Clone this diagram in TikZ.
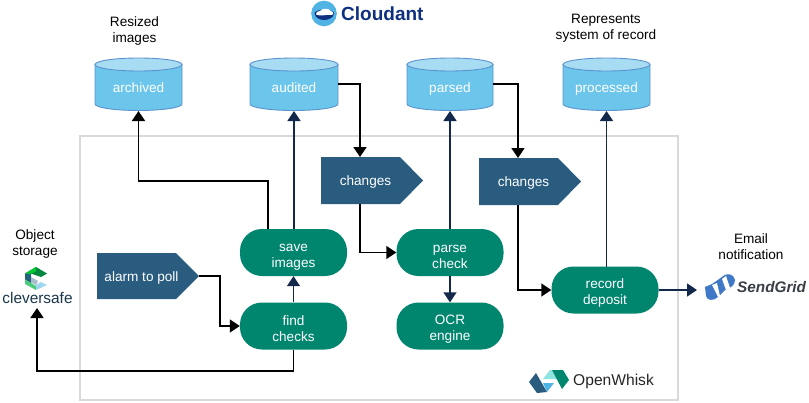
\documentclass[tikz,border=0pt]{standalone}
\usepackage{fontspec}
\setmainfont{Liberation Sans}
\usetikzlibrary{arrows.meta}
\definecolor{teal1}{HTML}{00856F}
\definecolor{slate}{HTML}{295C7F}
\definecolor{navy}{HTML}{12294B}
\definecolor{cylbody}{HTML}{6CC5EA}
\definecolor{cyltop}{HTML}{A8DCF3}
\definecolor{cyledge}{HTML}{5B93CE}
\definecolor{framec}{HTML}{D9D9D9}
\definecolor{cloudblue}{HTML}{4FB4E3}
\definecolor{cloudnavy}{HTML}{0F2F80}
\definecolor{sgblue}{HTML}{3F78C6}
\definecolor{sggray}{HTML}{3A3F45}
\newcommand{\dropline}{\rule{0pt}{16pt}}
\tikzset{
 x=1pt,y=-1pt,
 lbl/.style={font=\fontsize{13.6}{16}\selectfont,align=center,inner sep=0pt,text=black},
 wht/.style={font=\fontsize{13.6}{16}\selectfont,align=center,inner sep=0pt,text=white},
 action/.style={wht,fill=teal1,rounded corners=22pt,minimum width=107pt,minimum height=47pt},
 blk/.style={black,line width=1.6pt,-{Triangle[length=10pt,width=13pt]}},
 nvy/.style={navy,line width=1.6pt,-{Triangle[length=10pt,width=13pt]}},
}
% name, left x, shoulder x, tip x, top y, bottom y, label
\newcommand{\feedshape}[7]{
 \fill[slate] (#2,#5) -- (#3,#5) -- (#4,{(#5+#6)/2}) -- (#3,#6) -- (#2,#6) -- cycle;
 \node[wht] (#1) at ({(#2+#3)/2+5},{(#5+#6)/2+1.5}) {#7};
 \coordinate (#1-tip) at (#4,{(#5+#6)/2});
}
% name, left x, right x, label
\newcommand{\cyl}[4]{
 \filldraw[fill=cylbody,draw=cyledge,line width=.9pt] (#2,64.5) -- (#2,104) arc[start angle=180,end angle=0,x radius={(#3-#2)/2},y radius=6.5] -- (#3,64.5) -- cycle;
 \filldraw[fill=cyltop,draw=cyledge,line width=.9pt] ({(#2+#3)/2},64.5) ellipse[x radius={(#3-#2)/2},y radius=6.5];
 \node[wht,anchor=base] (#1) at ({(#2+#3)/2},92) {#4};
 \coordinate (#1-s) at ({(#2+#3)/2},111);
 \coordinate (#1-e) at (#3,84);
}
\begin{document}
\begin{tikzpicture}
\useasboundingbox (0,0) rectangle (809,402);
\fill[white] (0,0) rectangle (809,402);
\draw[framec,line width=1.6pt] (80,136) rectangle (678,400);

\cyl{archived}{95}{182}{archived}
\cyl{audited}{250}{338}{audited}
\cyl{parsed}{407}{493}{parsed}
\cyl{processed}{563}{650}{processed}

\node[lbl] (resized) at (134.5,31) {Resized\\images};
\node[lbl] (represents) at (606,28.5) {Represents\\system of record};
\node[lbl] (objstore) at (35,243.5) {Object\\storage};
\node[lbl] (email) at (751,246.5) {Email\\notification};

\feedshape{alarm}{97}{176}{199}{253}{299}{alarm to poll}
\feedshape{chgA}{321}{400}{423}{157}{204}{changes}
\feedshape{chgB}{479}{558}{581}{158}{205}{changes}

\node[action] (save) at (293.5,252.5) {\dropline save\\images};
\node[action] (find) at (293.5,326) {\dropline find\\checks};
\node[action] (parse) at (450,252.5) {\dropline parse\\check};
\node[action] (ocr) at (450,326) {\dropline OCR\\engine};
\node[action] (record) at (605,290) {\dropline record\\deposit};

% Cloudant logo
\fill[cloudblue] (324,13.5) circle[radius=12.8];
\fill[cloudnavy] (314.5,13) .. controls (316,9) and (332,8) .. (334,13) .. controls (334,18) and (328,20) .. (324,20) .. controls (320,20) and (315,18) .. (314.5,13) -- cycle;
\fill[white] (316,14.5) .. controls (315,12) and (318,11.5) .. (320,11) .. controls (322,8) and (329,8) .. (331,11) .. controls (334,12) and (334,15) .. (331,15) .. controls (326,14) and (321,17) .. (316,14.5) -- cycle;
\node[font=\fontsize{19}{19}\selectfont\bfseries,text=cloudnavy,anchor=west,inner sep=0pt] (cloudant) at (341,14) {Cloudant};

% Cleversafe logo
\fill[teal1!70!green!80!black] (36,267) -- (47,273.5) -- (41,277) -- (31,273.5) -- (25,273.5) -- cycle;
\fill[green!55!teal1] (25,273.5) -- (36,267) -- (36,271) -- (31,274) -- cycle;
\fill[slate!80!teal1] (25,273.5) -- (31,274) -- (31,283) -- (25,279.5) -- cycle;
\fill[green!40!teal1!70!white] (25,279.5) -- (31,283) -- (36,286) -- (36,290) -- (25,284) -- cycle;
\fill[cloudblue!55!white] (36,290) -- (36,285) -- (41,282) -- (47,285) -- cycle;
\fill[slate!40!white] (31,277) -- (38,281) -- (36,285) -- (31,282.5) -- cycle;
\node[font=\fontsize{15.4}{16}\selectfont,text=slate!60!black,inner sep=0pt] (clever) at (37.5,298) {cleversafe};

% SendGrid logo
\fill[sgblue] (705,287) -- (712,284) -- (722,277) .. controls (727,272) and (734,274) .. (735,280) .. controls (735,285) and (731,288) .. (725,290) -- (718,297) .. controls (714,301) and (707,301) .. (706,296) -- cycle;
\fill[white] (712,285) -- (717,283) -- (720,296) -- (718,297) -- cycle;
\fill[white] (722,279) -- (726,276) -- (730,288) -- (726,290) -- cycle;
\node[font=\fontsize{15.3}{16}\selectfont\bfseries\itshape,text=sggray,anchor=west,inner sep=0pt] (sendgrid) at (737,287.5) {SendGrid};

% OpenWhisk logo
\fill[slate] (529,382) -- (536,373) -- (547,392) -- (537,393) -- cycle;
\fill[cloudblue] (543,383) -- (554,383) -- (547,392) -- cycle;
\fill[teal1!50!cyan!45!white] (550,370) -- (552,370) -- (557,379) -- (543,379) -- cycle;
\fill[teal1] (552,370) -- (563,370) -- (569,380) -- (562,389) -- cycle;
\node[font=\fontsize{15.6}{16}\selectfont,text=black!85,anchor=west,inner sep=0pt] (openwhisk) at (573,381) {OpenWhisk};

% anchors
\coordinate (cleverIn) at (37,308);
\coordinate (sgIn) at (697,290);

% connectors
\draw[blk] (alarm-tip) -- (220,276) |- (find.west);
\draw[nvy] (find.north) -- (save.south);
\draw[blk] (find.south) |- (37,371) -- (cleverIn);
\draw[blk] (268,229) -- (268,181) -- (138.5,181) -- (archived-s);
\draw[nvy] (294,229) -- (audited-s);
\draw[blk] (audited-e) -- (360,84) -- (360,157);
\draw[blk] (360,204) |- (parse.west);
\draw[nvy] (parse.north) -- (parsed-s);
\draw[nvy] (parse.south) -- (ocr.north);
\draw[blk] (parsed-e) -- (518,84) -- (518,158);
\draw[blk] (518,205) |- (record.west);
\draw[nvy] (606.5,267) -- (processed-s);
\draw[nvy] (record.east) -- (sgIn);
\end{tikzpicture}
\end{document}
